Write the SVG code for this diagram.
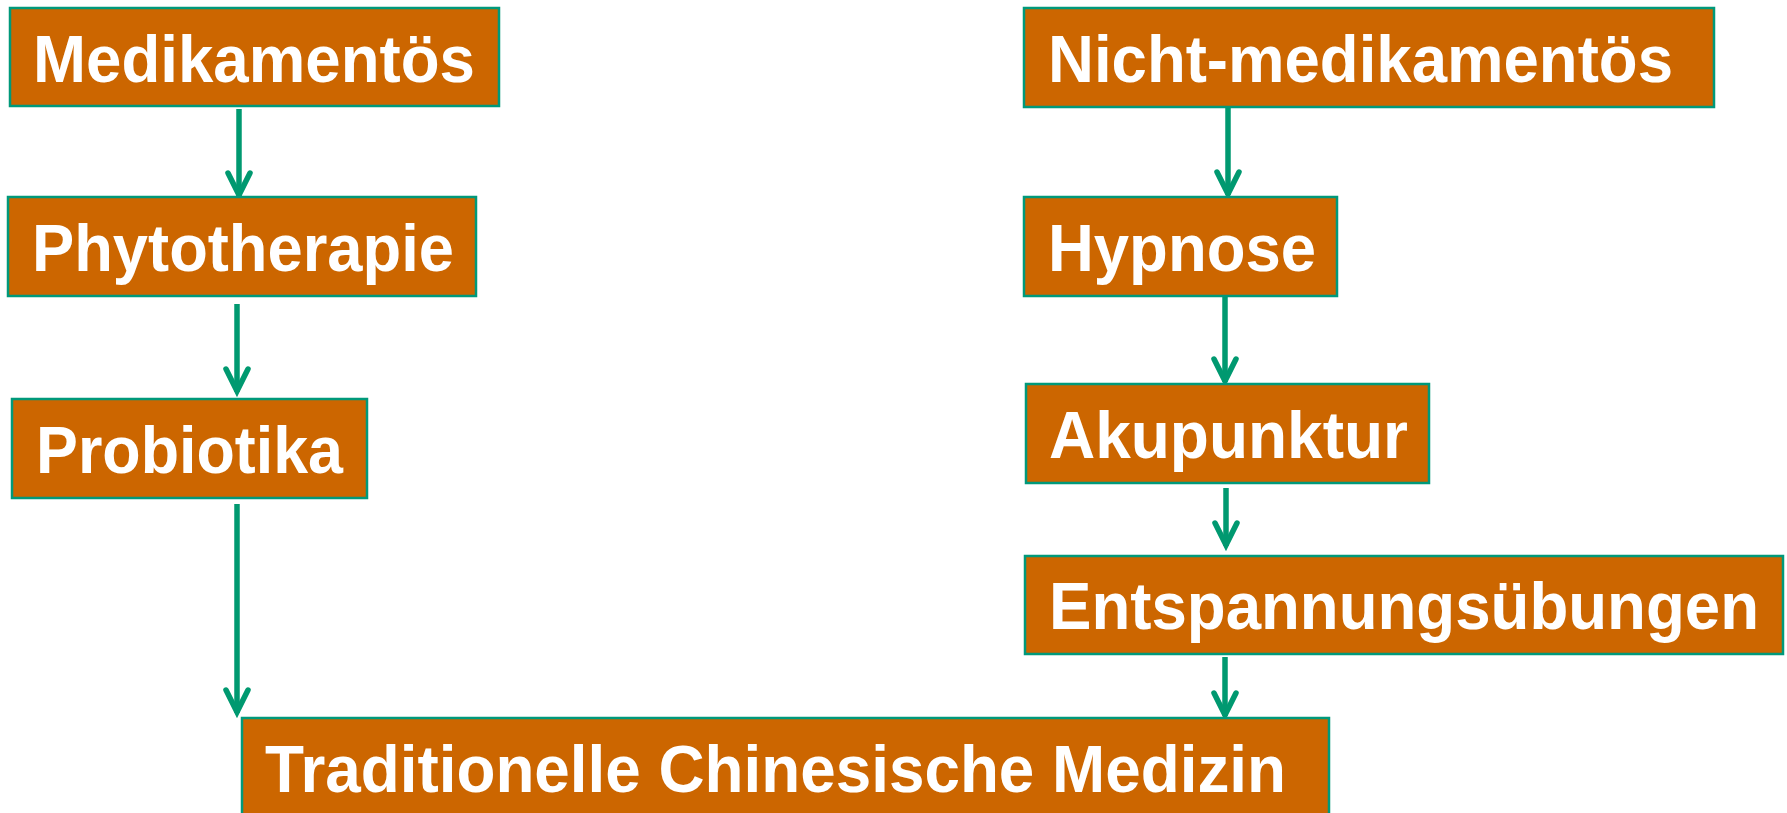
<svg xmlns="http://www.w3.org/2000/svg" width="1787" height="813" viewBox="0 0 1787 813">
<style>
.box{fill:#CC6600;stroke:#00997A;stroke-width:2.5}
.lbl{font-family:"Liberation Sans",Arial,sans-serif;font-weight:bold;font-size:66px;fill:#FFFFFF}
.edge{stroke:#009970;stroke-width:5.5;fill:none;stroke-linecap:butt}
</style>
<defs>
<marker id="arr" markerUnits="userSpaceOnUse" markerWidth="40" markerHeight="40" viewBox="-30 -20 40 40" refX="0" refY="0" orient="auto" overflow="visible">
<path d="M-23,-11 L-1,0 L-23,11" fill="none" stroke="#009970" stroke-width="5.5" stroke-linecap="round" stroke-linejoin="miter"/>
</marker>
</defs>
<rect width="1787" height="813" fill="#FFFFFF"/>
<g id="connectors">
<line class="edge" x1="239" y1="109" x2="239" y2="196" marker-end="url(#arr)"/>
<line class="edge" x1="237" y1="304" x2="237" y2="392" marker-end="url(#arr)"/>
<line class="edge" x1="237" y1="504" x2="237" y2="713" marker-end="url(#arr)"/>
<line class="edge" x1="1228" y1="107" x2="1228" y2="195" marker-end="url(#arr)"/>
<line class="edge" x1="1225" y1="296" x2="1225" y2="382" marker-end="url(#arr)"/>
<line class="edge" x1="1226" y1="488" x2="1226" y2="546" marker-end="url(#arr)"/>
<line class="edge" x1="1225" y1="657" x2="1225" y2="716" marker-end="url(#arr)"/>
</g>
<g id="n_medikamentoes">
<rect class="box" x="10" y="8" width="489" height="98"/>
<text class="lbl" x="33" y="82" textLength="442" lengthAdjust="spacingAndGlyphs">Medikamentös</text>
</g>
<g id="n_phytotherapie">
<rect class="box" x="8" y="197" width="468" height="99"/>
<text class="lbl" x="32" y="271" textLength="422" lengthAdjust="spacingAndGlyphs">Phytotherapie</text>
</g>
<g id="n_probiotika">
<rect class="box" x="12" y="399" width="355" height="99"/>
<text class="lbl" x="36" y="473" textLength="307" lengthAdjust="spacingAndGlyphs">Probiotika</text>
</g>
<g id="n_nichtmedikamentoes">
<rect class="box" x="1024" y="8" width="690" height="99"/>
<text class="lbl" x="1048" y="82" textLength="625" lengthAdjust="spacingAndGlyphs">Nicht-medikamentös</text>
</g>
<g id="n_hypnose">
<rect class="box" x="1024" y="197" width="313" height="99"/>
<text class="lbl" x="1048" y="271" textLength="268" lengthAdjust="spacingAndGlyphs">Hypnose</text>
</g>
<g id="n_akupunktur">
<rect class="box" x="1026" y="384" width="403" height="99"/>
<text class="lbl" x="1049" y="458" textLength="359" lengthAdjust="spacingAndGlyphs">Akupunktur</text>
</g>
<g id="n_entspannung">
<rect class="box" x="1025" y="556" width="758" height="98"/>
<text class="lbl" x="1049" y="629" textLength="710" lengthAdjust="spacingAndGlyphs">Entspannungsübungen</text>
</g>
<g id="n_tcm">
<rect class="box" x="242" y="718" width="1087" height="130"/>
<text class="lbl" x="265" y="792" textLength="1021" lengthAdjust="spacingAndGlyphs">Traditionelle Chinesische Medizin</text>
</g>
</svg>
